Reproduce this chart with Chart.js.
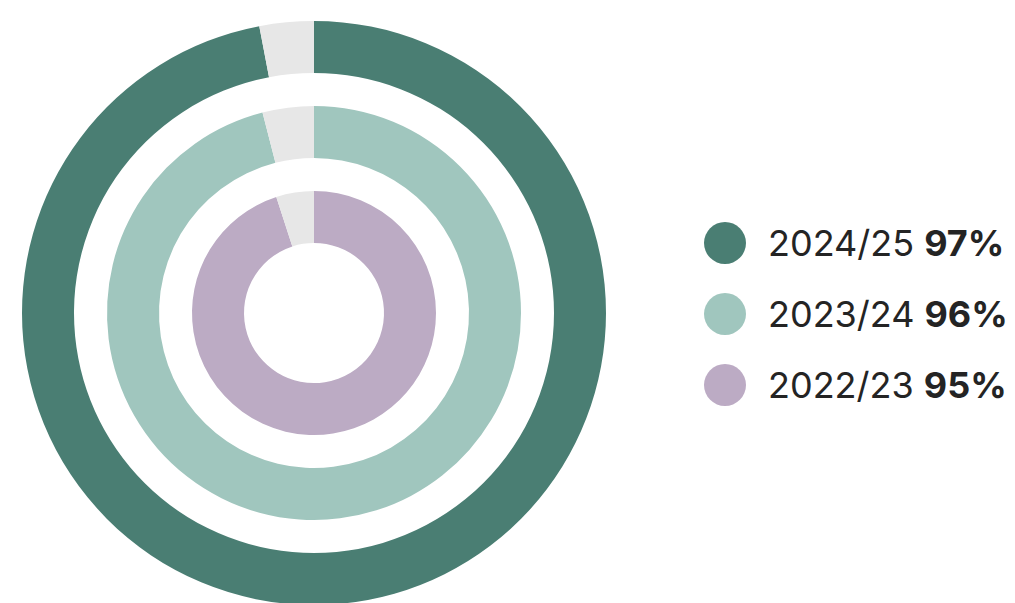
<!DOCTYPE html>
<html lang="en">
<head>
    <meta charset="UTF-8">
    <title>Rings</title>
    <script src="https://cdn.jsdelivr.net/npm/chart.js"></script>
    <style>
        html, body {
            margin: 0;
            padding: 0;
            background: #fff;
            overflow: hidden;
            width: 1015px;
            height: 603px;
        }
        #wrap {
            position: absolute;
            left: 0;
            top: 0;
            width: 628px;
            height: 626px;
        }
        #legend {
            position: absolute;
            left: 704px;
            top: 207px;
            font-family: Inter, sans-serif;
            font-size: 36px;
            color: #242424;
        }
        .item {
            display: flex;
            align-items: center;
            height: 71px;
        }
        .dot {
            width: 42px;
            height: 42px;
            border-radius: 50%;
            margin-right: 22px;
        }
        .item b {
            font-weight: 700;
            margin-left: 10px;
        }
    </style>
</head>
<body>
    <div id="wrap"><canvas id="rings"></canvas></div>
    <div id="legend"></div>

    <script>
        const seasons = ['2024/25', '2023/24', '2022/23'];
        const rates = [97, 96, 95];
        const ringColors = ['#4A7E73', '#A0C6BE', '#BCABC4'];
        const restColor = '#E7E7E7';

        // rings are 52px thick with a 33px white gap between them
        const ringWeight = 52;
        const gapWeight = 33;
        const outerR = 292;
        const holeR = 70;

        const datasets = [];
        rates.forEach((r, i) => {
            if (i > 0) {
                datasets.push({
                    data: [1],
                    backgroundColor: 'rgba(0,0,0,0)',
                    borderWidth: 0,
                    weight: gapWeight
                });
            }
            datasets.push({
                label: seasons[i],
                data: [r, 100 - r],
                backgroundColor: [ringColors[i], restColor],
                borderWidth: 0,
                weight: ringWeight
            });
        });

        new Chart(document.getElementById('rings'), {
            type: 'doughnut',
            data: { datasets },
            options: {
                responsive: true,
                maintainAspectRatio: false,
                animation: false,
                events: [],
                radius: outerR,
                // cutout is taken relative to the outer radius
                cutout: (holeR / outerR * 100) + '%',
                layout: { padding: 0 },
                plugins: {
                    legend: { display: false },
                    tooltip: { enabled: false }
                }
            }
        });

        const legend = document.getElementById('legend');
        seasons.forEach((s, i) => {
            const row = document.createElement('div');
            row.className = 'item';
            row.innerHTML = `<span class="dot" style="background:${ringColors[i]}"></span>${s}<b>${rates[i]}%</b>`;
            legend.appendChild(row);
        });
    </script>
</body>
</html>
